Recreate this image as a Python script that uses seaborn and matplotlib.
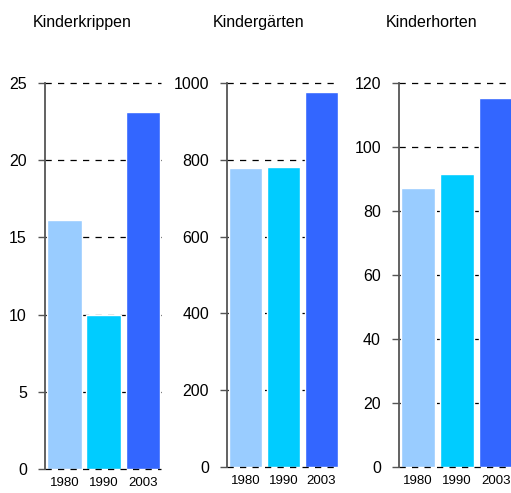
import matplotlib
matplotlib.use("Agg")
import matplotlib.pyplot as plt
import seaborn as sns
import pandas as pd

# Plätze je 1000 Kinder der Altersgruppe
years = ["1980", "1990", "2003"]
krippen = [16.1, 10.0, 23.1]
gaerten = [778, 782, 977]
horten = [87.2, 91.5, 115.3]

titles = ["Kinderkrippen", "Kindergärten", "Kinderhorten"]
series = [krippen, gaerten, horten]
y_max = [25, 1000, 120]
y_step = [5, 200, 20]
colors = ["#99CCFF", "#00CCFF", "#3366FF"]

sns.set_theme(style="white")
plt.rcParams["font.family"] = ["Liberation Sans", "DejaVu Sans"]
plt.rcParams["text.color"] = "black"
plt.rcParams["xtick.color"] = "black"
plt.rcParams["ytick.color"] = "black"

W, H = 511, 493
fig = plt.figure(figsize=(W / 100, H / 100), dpi=100)

# panel boxes in pixels: left, right, top, bottom
boxes = [(45, 161, 83, 469), (227, 339, 83, 467), (399, 514, 83, 467)]
title_x = [82, 259, 432]

for vals, title, ymax, step, (l, r, t, b), tx in zip(series, titles, y_max, y_step, boxes, title_x):
    ax = fig.add_axes([l / W, 1 - b / H, (r - l) / W, (b - t) / H])
    df = pd.DataFrame({"Jahr": years, "Wert": vals})
    sns.barplot(data=df, x="Jahr", y="Wert", hue="Jahr", palette=colors,
                dodge=False, width=0.88, legend=False, ax=ax, zorder=2,
                saturation=1)
    ax.set_ylim(0, ymax)
    ax.set_xlim(-0.49, 2.46)
    ticks = list(range(0, ymax + 1, step))
    ax.set_yticks(ticks)
    ax.set_yticklabels([str(v) for v in ticks], fontsize=11.5)
    for v in ticks:
        ax.axhline(v, color="black", lw=0.9, ls=(0, (5, 5)),
                   zorder=3 if v == 0 else 1, clip_on=False)
    ax.set_xlabel("")
    ax.set_ylabel("")
    ax.tick_params(axis="x", length=0, labelsize=9.5, pad=6)
    ax.tick_params(axis="y", length=5, width=1, color="#555555", pad=8, left=True)
    for s in ["top", "right", "bottom"]:
        ax.spines[s].set_visible(False)
    ax.spines["left"].set_color("#555555")
    ax.spines["left"].set_linewidth(1.3)
    ax.spines["left"].set_zorder(4)
    ax.patch.set_alpha(0)
    fig.text(tx / W, 1 - 27 / H, title, ha="center", va="baseline", fontsize=11.5)

fig.savefig("out.png", dpi=100)
